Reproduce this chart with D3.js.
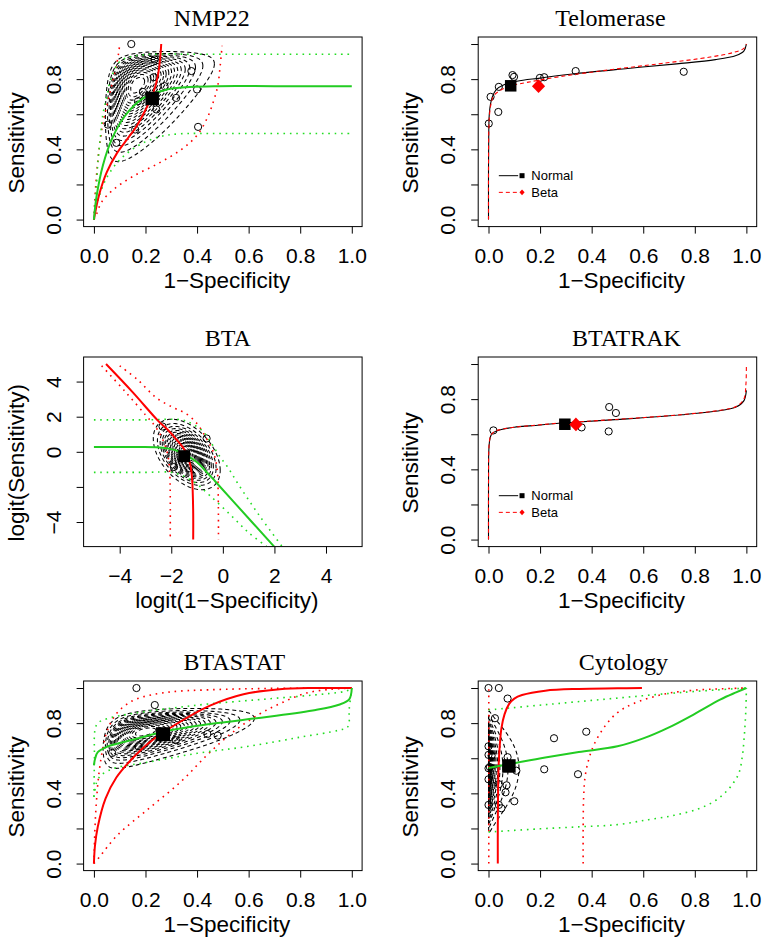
<!DOCTYPE html>
<html>
<head>
<meta charset="utf-8">
<script src="https://cdn.jsdelivr.net/npm/d3@7"></script>
<style>
body { margin: 0; background: #fff; }
</style>
</head>
<body>
<svg id="chart" width="762" height="940"></svg>
<script>
// ---- tick values and labels ----
var probTicks = [0, 0.2, 0.4, 0.6, 0.8, 1.0];
var probXLabels = ["0.0", "0.2", "0.4", "0.6", "0.8", "1.0"];
var probYLabels = ["0.0", "", "0.4", "", "0.8", ""];
var logitTicks = [-4, -2, 0, 2, 4];
var logitXLabels = ["\u22124", "\u22122", "0", "2", "4"];
var logitYLabels = ["\u22124", "", "0", "2", "4"];

// density levels of the contour lines (fraction of the peak)
var densityLevels = [0.05, 0.1, 0.15, 0.2, 0.25, 0.3, 0.35, 0.4, 0.45, 0.5, 0.55, 0.6, 0.65, 0.7, 0.75, 0.8, 0.85, 0.9, 0.95];

// ---- NMP22 ----
var nmp22Studies = [[0.145, 1.0], [0.235, 0.912], [0.378, 0.846], [0.232, 0.811], [0.19, 0.727], [0.274, 0.76], [0.4, 0.741], [0.319, 0.693], [0.171, 0.674], [0.242, 0.627], [0.054, 0.541], [0.404, 0.528], [0.16, 0.513], [0.087, 0.437]];
var nmp22Summary = [0.226, 0.69];
var nmp22Red = [[0, 0], [0.02, 0.14], [0.05, 0.27], [0.09, 0.38], [0.13, 0.46], [0.165, 0.53], [0.2, 0.625], [0.23, 0.72], [0.248, 0.82], [0.257, 0.92], [0.261, 1.0]];
var nmp22RedLo = [[0, 0], [0.003, 0.1], [0.01, 0.25], [0.02, 0.4], [0.035, 0.55], [0.055, 0.68], [0.075, 0.8], [0.09, 0.9], [0.097, 0.96], [0.1, 1.0]];
var nmp22RedHi = [[0, 0], [0.01, 0.03], [0.03, 0.1], [0.075, 0.17], [0.15, 0.245], [0.25, 0.32], [0.34, 0.4], [0.4, 0.48], [0.44, 0.58], [0.465, 0.68], [0.48, 0.76], [0.49, 0.88], [0.497, 0.99]];
var nmp22Green = [[0, 0], [0.01, 0.13], [0.035, 0.31], [0.07, 0.46], [0.12, 0.59], [0.19, 0.69], [0.28, 0.74], [0.37, 0.755], [0.48, 0.76], [0.7, 0.76], [1, 0.76]];
var nmp22GreenLo = [[0, 0], [0.005, 0.05], [0.02, 0.13], [0.05, 0.24], [0.1, 0.34], [0.17, 0.42], [0.25, 0.47], [0.33, 0.488], [0.5, 0.49], [1, 0.49]];
var nmp22GreenHi = [[0, 0], [0.005, 0.1], [0.01, 0.19], [0.015, 0.32], [0.025, 0.47], [0.035, 0.6], [0.05, 0.7], [0.065, 0.8], [0.1, 0.9], [0.15, 0.93], [0.25, 0.942], [0.4, 0.942], [1, 0.942]];
var nmp22Contour = [-1.6, 1.2, 0.6, 0.78, 0.45]; // logit centre x, centre y, sd x, sd y, correlation

// ---- Telomerase ----
var telomeraseStudies = [[0.001, 0.547], [0.008, 0.699], [0.038, 0.613], [0.04, 0.756], [0.093, 0.823], [0.099, 0.813], [0.199, 0.807], [0.216, 0.811], [0.338, 0.846], [0.757, 0.842]];
var telomeraseNormalPt = [0.086, 0.762];
var telomeraseBetaPt = [0.194, 0.76];
var telomeraseNormal = [[0, 0], [0, 0.3], [0.001, 0.5], [0.003, 0.6], [0.008, 0.66], [0.015, 0.7], [0.03, 0.74], [0.06, 0.768], [0.11, 0.788], [0.2, 0.806], [0.34, 0.832], [0.54, 0.861], [0.73, 0.887], [0.88, 0.911], [0.96, 0.935], [0.99, 0.96], [1, 1]];
var telomeraseBeta = [[0, 0], [0, 0.3], [0.001, 0.5], [0.004, 0.6], [0.01, 0.66], [0.02, 0.705], [0.05, 0.74], [0.09, 0.763], [0.155, 0.783], [0.28, 0.815], [0.48, 0.855], [0.67, 0.889], [0.86, 0.926], [0.95, 0.952], [0.99, 0.975], [1, 1]];

// ---- BTA (logit scale) ----
var btaStudies = [[-2.34, 1.44], [-0.63, 0.76], [-1.9, -0.87], [-1.3, -0.93]];
var btaSummary = [-1.5, -0.25];
var btaRed = [[-4.53, 5.0], [-3.5, 3.4], [-2.5, 1.75], [-2.1, 1.2], [-1.8, 0.7], [-1.55, 0.25], [-1.38, -0.2], [-1.26, -0.75], [-1.2, -1.4], [-1.17, -2.2], [-1.15, -3.5], [-1.15, -5.0]];
var btaRedLo = [[-4.7, 4.9], [-3.8, 3.45], [-3.0, 2.1], [-2.6, 1.4], [-2.3, 0.6], [-2.12, -0.3], [-2.06, -1.2], [-2.04, -2.5], [-2.04, -5.0]];
var btaRedHi = [[-4.0, 4.9], [-3.3, 4.1], [-2.6, 3.1], [-1.9, 2.5], [-1.4, 2.15], [-1.0, 1.6], [-0.65, 0.8], [-0.35, -0.1], [-0.22, -1.0], [-0.18, -2.5], [-0.17, -5.0]];
var btaGreen = [[-5, 0.27], [-3.5, 0.27], [-2.6, 0.26], [-2.1, 0.18], [-1.7, 0.02], [-1.4, -0.2], [-1.0, -0.6], [-0.65, -1.12], [-0.3, -1.68], [0.5, -2.98], [1.99, -5.4]];
var btaGreenLo = [[-5, -1.17], [-3, -1.17], [-2.0, -1.17], [-1.5, -1.4], [-1.0, -1.85], [-0.5, -2.5], [0.3, -3.6], [1.0, -4.6], [1.7, -5.4]];
var btaGreenHi = [[-5, 1.82], [-3, 1.82], [-1.6, 1.82], [-1.2, 1.6], [-0.8, 1.2], [-0.45, 0.5], [-0.15, -0.2], [0.2, -0.9], [0.6, -1.85], [1.4, -3.6], [2.3, -5.4]];
var btaContour = [-1.4, -0.15, 0.53, 0.82, -0.45];

// ---- BTATRAK ----
var btatrakStudies = [[0.019, 0.622], [0.361, 0.639], [0.468, 0.755], [0.494, 0.721], [0.466, 0.616]];
var btatrakNormalPt = [0.296, 0.657];
var btatrakBetaPt = [0.339, 0.656];
var btatrakNormal = [[0, 0], [0, 0.3], [0.001, 0.5], [0.004, 0.56], [0.01, 0.595], [0.025, 0.615], [0.05, 0.627], [0.1, 0.64], [0.17, 0.649], [0.29, 0.664], [0.49, 0.683], [0.75, 0.711], [0.9, 0.735], [0.96, 0.755], [0.99, 0.79], [1, 0.85]];
var btatrakBeta = [[0, 0], [0, 0.3], [0.001, 0.5], [0.004, 0.565], [0.01, 0.597], [0.025, 0.617], [0.05, 0.628], [0.1, 0.64], [0.17, 0.65], [0.29, 0.665], [0.49, 0.684], [0.75, 0.712], [0.9, 0.737], [0.96, 0.758], [0.99, 0.8], [0.998, 0.88], [1, 1]];

// ---- BTASTAT ----
var btastatStudies = [[0.165, 1.0], [0.236, 0.903], [0.071, 0.63], [0.173, 0.668], [0.318, 0.702], [0.44, 0.738], [0.48, 0.729]];
var btastatSummary = [0.268, 0.737];
var btastatRed = [[0, 0], [0.004, 0.1], [0.015, 0.21], [0.045, 0.37], [0.087, 0.49], [0.15, 0.6], [0.215, 0.69], [0.32, 0.795], [0.45, 0.9], [0.58, 0.965], [0.72, 0.993], [0.85, 1], [1, 1]];
var btastatRedLo = [[0, 0], [0.02, 0.035], [0.09, 0.16], [0.21, 0.31], [0.34, 0.47], [0.44, 0.62], [0.54, 0.75], [0.64, 0.85], [0.72, 0.91], [0.82, 0.97], [0.92, 0.993], [1, 1]];
var btastatRedHi = [[0, 0], [0.004, 0.2], [0.01, 0.36], [0.02, 0.52], [0.035, 0.66], [0.05, 0.75], [0.08, 0.84], [0.12, 0.9], [0.17, 0.94], [0.28, 0.975], [0.45, 0.99], [0.7, 0.998], [1, 1]];
var btastatGreen = [[0, 0.56], [0.005, 0.6], [0.015, 0.635], [0.05, 0.665], [0.15, 0.705], [0.28, 0.755], [0.45, 0.795], [0.67, 0.835], [0.86, 0.875], [0.95, 0.905], [0.99, 0.935], [1, 1]];
var btastatGreenLo = [[0, 0.38], [0.01, 0.46], [0.025, 0.5], [0.05, 0.525], [0.09, 0.548], [0.2, 0.575], [0.4, 0.628], [0.6, 0.668], [0.8, 0.72], [0.95, 0.76], [0.985, 0.78], [0.99, 0.88], [1, 1]];
var btastatGreenHi = [[0, 0.38], [0.002, 0.6], [0.004, 0.76], [0.015, 0.8], [0.05, 0.825], [0.15, 0.855], [0.3, 0.885], [0.45, 0.91], [0.65, 0.935], [0.85, 0.96], [0.97, 0.98], [1, 0.995]];
var btastatContour = [-1.4, 1.1, 0.776, 0.38, 0.5];

// ---- Cytology ----
var cytologyStudies = [[0, 1.0], [0.04, 1.0], [0.074, 0.94], [0.025, 0.828], [0, 0.668], [0, 0.619], [0.012, 0.615], [0, 0.543], [0.005, 0.55], [0, 0.48], [0.074, 0.606], [0.108, 0.529], [0.04, 0.452], [0.07, 0.446], [0.066, 0.406], [0.1, 0.355], [0, 0.334], [0.04, 0.334], [0.05, 0.315], [0.216, 0.537], [0.254, 0.714], [0.347, 0.509], [0.379, 0.751]];
var cytologySummary = [0.079, 0.556];
var cytologyRed = [[0.036, 0], [0.036, 0.2], [0.037, 0.4], [0.039, 0.55], [0.043, 0.66], [0.05, 0.77], [0.062, 0.85], [0.08, 0.91], [0.1, 0.94], [0.13, 0.96], [0.22, 0.985], [0.35, 0.995], [0.5, 0.998], [0.595, 1.0]];
var cytologyRedLo = [[0.001, 0], [0.001, 1.0]];
var cytologyRedHi = [[0.367, 0], [0.367, 0.2], [0.369, 0.38], [0.375, 0.5], [0.39, 0.6], [0.41, 0.68], [0.45, 0.78], [0.5, 0.86], [0.56, 0.91], [0.68, 0.965], [0.8, 0.988], [1, 1]];
var cytologyGreen = [[0, 0.545], [0.1, 0.572], [0.22, 0.604], [0.35, 0.635], [0.5, 0.668], [0.6, 0.713], [0.7, 0.776], [0.8, 0.853], [0.9, 0.935], [0.96, 0.975], [1, 1]];
var cytologyGreenLo = [[0, 0.18], [0.2, 0.198], [0.36, 0.21], [0.5, 0.222], [0.62, 0.25], [0.72, 0.275], [0.81, 0.31], [0.87, 0.35], [0.915, 0.4], [0.95, 0.46], [0.972, 0.52], [0.985, 0.62], [0.993, 0.75], [0.998, 0.88], [1, 1]];
var cytologyGreenHi = [[0, 0.875], [0.22, 0.905], [0.48, 0.94], [0.75, 0.975], [1, 1]];
var cytologyContour = [-6, 0.17, 1.63, 0.7, 0];

// ---- layout ----
var svg = d3.select("#chart");
svg.append("rect").attr("width", 762).attr("height", 940).attr("fill", "#fff");

var colLeft = [83.6, 478.2];
var rowTop = [37, 357, 681];
var boxW = 278.5, boxH = 189.6;
var RED = "#ff0000", GREEN = "#22cc22", GREEN_DOT = "#22dd22";
var SANS = "'Liberation Sans', Arial, Helvetica, sans-serif";
var SERIF = "'Liberation Serif', 'Times New Roman', serif";

function invlogit(v) {
    return 1 / (1 + Math.exp(-v));
}

// one contour of a bivariate normal density, optionally mapped back to ROC space
function ellipse(c, level, toRoc) {
    var r = Math.sqrt(-2 * Math.log(level));
    var pts = [];
    for (var i = 0; i <= 180; i++) {
        var t = i / 180 * 2 * Math.PI;
        var z1 = r * Math.cos(t), z2 = r * Math.sin(t);
        var ex = c[0] + c[2] * z1;
        var ey = c[1] + c[3] * (c[4] * z1 + Math.sqrt(1 - c[4] * c[4]) * z2);
        pts.push(toRoc ? [invlogit(ex), invlogit(ey)] : [ex, ey]);
    }
    return pts;
}

var panels = [
    {id: 1, title: "NMP22", col: 0, row: 0, titleDx: -11, logit: false, contour: nmp22Contour,
        dotted: [[nmp22RedLo, RED], [nmp22RedHi, RED], [nmp22GreenLo, GREEN_DOT], [nmp22GreenHi, GREEN_DOT]],
        solid: [[nmp22Red, RED], [nmp22Green, GREEN]],
        studies: nmp22Studies, square: nmp22Summary, squareSize: 13.5},
    {id: 2, title: "Telomerase", col: 1, row: 0, titleDx: -7, logit: false, legend: true,
        models: [telomeraseNormal, telomeraseBeta],
        studies: telomeraseStudies, square: telomeraseNormalPt, squareSize: 11.5, diamond: telomeraseBetaPt},
    {id: 3, title: "BTA", col: 0, row: 1, titleDx: 5, logit: true, contour: btaContour,
        dotted: [[btaRedLo, RED], [btaRedHi, RED], [btaGreenLo, GREEN_DOT], [btaGreenHi, GREEN_DOT]],
        solid: [[btaRed, RED], [btaGreen, GREEN]],
        studies: btaStudies, square: btaSummary, squareSize: 12},
    {id: 4, title: "BTATRAK", col: 1, row: 1, titleDx: 9, logit: false, legend: true,
        models: [btatrakNormal, btatrakBeta],
        studies: btatrakStudies, square: btatrakNormalPt, squareSize: 11.5, diamond: btatrakBetaPt},
    {id: 5, title: "BTASTAT", col: 0, row: 2, titleDx: 11.5, logit: false, contour: btastatContour,
        dotted: [[btastatRedLo, RED], [btastatRedHi, RED], [btastatGreenLo, GREEN_DOT], [btastatGreenHi, GREEN_DOT]],
        solid: [[btastatRed, RED], [btastatGreen, GREEN]],
        studies: btastatStudies, square: btastatSummary, squareSize: 14},
    {id: 6, title: "Cytology", col: 1, row: 2, titleDx: 6, logit: false, contour: cytologyContour,
        dotted: [[cytologyRedLo, RED], [cytologyRedHi, RED], [cytologyGreenLo, GREEN_DOT], [cytologyGreenHi, GREEN_DOT]],
        solid: [[cytologyRed, RED], [cytologyGreen, GREEN]],
        studies: cytologyStudies, square: cytologySummary, squareSize: 13.5}
];

function drawPanel(p) {
    var left = colLeft[p.col], top = rowTop[p.row];
    var g = svg.append("g").attr("class", "panel");
    var dom = p.logit ? [-5.4, 5.4] : [-0.04, 1.04];
    var x = d3.scaleLinear().domain(dom).range([left, left + boxW]);
    var y = d3.scaleLinear().domain(dom).range([top + boxH, top]);

    g.append("clipPath").attr("id", "clip" + p.id)
        .append("rect").attr("x", left).attr("y", top).attr("width", boxW).attr("height", boxH);
    var plot = g.append("g").attr("clip-path", "url(#clip" + p.id + ")");

    var smooth = d3.line().x(function (d) { return x(d[0]); }).y(function (d) { return y(d[1]); })
        .curve(d3.curveCatmullRom.alpha(0.5));
    var straight = d3.line().x(function (d) { return x(d[0]); }).y(function (d) { return y(d[1]); });

    if (p.contour) {
        densityLevels.forEach(function (lv) {
            plot.append("path")
                .datum(ellipse(p.contour, lv, !p.logit))
                .attr("d", straight)
                .attr("fill", "none")
                .attr("stroke", "#000")
                .attr("stroke-width", 1.05)
                .attr("stroke-dasharray", "4,3");
        });
    }

    plot.selectAll("circle.study")
        .data(p.studies)
        .enter().append("circle")
        .attr("class", "study")
        .attr("cx", function (d) { return x(d[0]); })
        .attr("cy", function (d) { return y(d[1]); })
        .attr("r", 3.6)
        .attr("fill", "none")
        .attr("stroke", "#000")
        .attr("stroke-width", 1);

    if (p.dotted) {
        p.dotted.forEach(function (b) {
            plot.append("path").datum(b[0]).attr("d", smooth)
                .attr("fill", "none").attr("stroke", b[1])
                .attr("stroke-width", 1.6).attr("stroke-dasharray", "1.6,4.8");
        });
    }
    if (p.solid) {
        p.solid.forEach(function (b) {
            plot.append("path").datum(b[0]).attr("d", smooth)
                .attr("fill", "none").attr("stroke", b[1]).attr("stroke-width", 2);
        });
    }
    if (p.models) {
        plot.append("path").datum(p.models[0]).attr("d", smooth)
            .attr("fill", "none").attr("stroke", "#000").attr("stroke-width", 1.1);
        plot.append("path").datum(p.models[1]).attr("d", smooth)
            .attr("fill", "none").attr("stroke", RED).attr("stroke-width", 1.1)
            .attr("stroke-dasharray", "4,3");
    }

    var s = p.squareSize;
    plot.append("rect")
        .attr("x", x(p.square[0]) - s / 2).attr("y", y(p.square[1]) - s / 2)
        .attr("width", s).attr("height", s).attr("fill", "#000");

    if (p.diamond) {
        plot.append("path")
            .attr("transform", "translate(" + x(p.diamond[0]) + "," + y(p.diamond[1]) + ")")
            .attr("d", "M0,-6.8L6.6,0L0,6.8L-6.6,0Z")
            .attr("fill", RED);
    }

    if (p.legend) {
        var ly1 = y(0.25), ly2 = y(0.155);
        g.append("line").attr("x1", x(0.04)).attr("x2", x(0.115)).attr("y1", ly1).attr("y2", ly1)
            .attr("stroke", "#000").attr("stroke-width", 1);
        g.append("rect").attr("x", x(0.13) - 2.5).attr("y", ly1 - 2.5).attr("width", 5).attr("height", 5)
            .attr("fill", "#000");
        g.append("line").attr("x1", x(0.04)).attr("x2", x(0.115)).attr("y1", ly2).attr("y2", ly2)
            .attr("stroke", RED).attr("stroke-width", 1).attr("stroke-dasharray", "4,3");
        g.append("path").attr("transform", "translate(" + x(0.13) + "," + ly2 + ")")
            .attr("d", "M0,-2.8L2.6,0L0,2.8L-2.6,0Z").attr("fill", RED);
        g.append("text").attr("x", x(0.166)).attr("y", ly1 + 4.6).text("Normal")
            .attr("font-family", SANS).attr("font-size", 13).attr("fill", "#000");
        g.append("text").attr("x", x(0.166)).attr("y", ly2 + 4.6).text("Beta")
            .attr("font-family", SANS).attr("font-size", 13).attr("fill", "#000");
    }

    // axes
    var ticks = p.logit ? logitTicks : probTicks;
    var xLabels = p.logit ? logitXLabels : probXLabels;
    var yLabels = p.logit ? logitYLabels : probYLabels;

    var ax = g.append("g")
        .attr("transform", "translate(0," + (top + boxH) + ")")
        .call(d3.axisBottom(x).tickValues(ticks).tickSize(7).tickSizeOuter(0)
            .tickFormat(function (d, i) { return xLabels[i]; }));
    ax.select(".domain").remove();
    ax.attr("font-family", SANS).attr("font-size", 21);
    ax.selectAll("line").attr("stroke", "#000");
    ax.selectAll("text").attr("y", 36.5).attr("dy", 0).attr("fill", "#000");

    var ay = g.append("g")
        .attr("transform", "translate(" + left + ",0)")
        .call(d3.axisLeft(y).tickValues(ticks).tickSize(7).tickSizeOuter(0)
            .tickFormat(function (d, i) { return yLabels[i]; }));
    ay.select(".domain").remove();
    ay.attr("font-family", SANS).attr("font-size", 21);
    ay.selectAll("line").attr("stroke", "#000");
    ay.selectAll("text").attr("x", 0).attr("dy", 0)
        .attr("transform", "translate(-23,0) rotate(-90)")
        .attr("text-anchor", "middle").attr("fill", "#000");

    g.append("rect").attr("x", left).attr("y", top).attr("width", boxW).attr("height", boxH)
        .attr("fill", "none").attr("stroke", "#000").attr("stroke-width", 1);

    g.append("text")
        .attr("x", left + boxW / 2 + 4).attr("y", top + boxH + 61.5)
        .attr("text-anchor", "middle").attr("font-family", SANS).attr("font-size", 22.5)
        .text(p.logit ? "logit(1\u2212Specificity)" : "1\u2212Specificity");
    g.append("text")
        .attr("transform", "translate(" + (left - 60) + "," + (top + boxH / 2 + 11) + ") rotate(-90)")
        .attr("text-anchor", "middle").attr("font-family", SANS).attr("font-size", 22.5)
        .text(p.logit ? "logit(Sensitivity)" : "Sensitivity");
    g.append("text")
        .attr("x", left + boxW / 2 + p.titleDx).attr("y", top - 11)
        .attr("text-anchor", "middle").attr("font-family", SERIF).attr("font-size", 24)
        .text(p.title);
}

panels.forEach(drawPanel);
</script>
</body>
</html>
